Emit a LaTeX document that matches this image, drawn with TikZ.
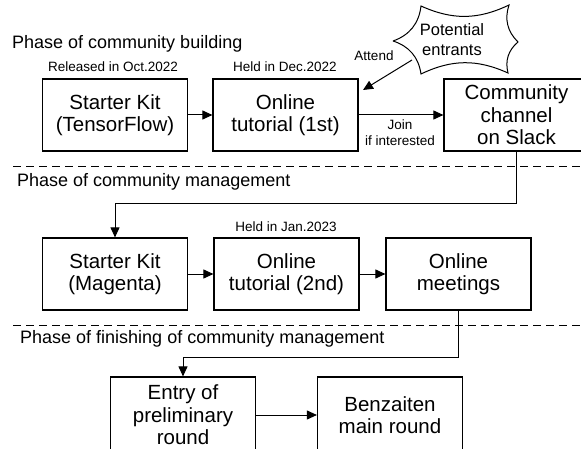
\documentclass[tikz,border=0pt]{standalone}
\usepackage{fontspec}
\setmainfont{Liberation Sans}
\usetikzlibrary{arrows.meta}
\tikzset{box/.style={draw,line width=1.2pt,minimum width=145pt,minimum height=72pt,
   align=center,inner sep=0pt,font=\fontsize{20.5}{22.5}\selectfont},
 note/.style={align=center,inner sep=0pt,font=\fontsize{13.5}{16}\selectfont},
 phase/.style={anchor=west,inner sep=0pt,font=\fontsize{18}{20}\selectfont},
 sep/.style={line width=1pt,dash pattern=on 8pt off 5pt},
 arr/.style={line width=1pt,-{Triangle[length=10pt,width=9pt]}},
 }

\begin{document}
\begin{tikzpicture}[x=1pt,y=-1pt]
        \useasboundingbox (0,0) rectangle (581,449);
        \clip (0,0) rectangle (581,449);
        % building
        \node[phase] (ph1) at (12,44) {Phase of community building};
        \node[box] (kit1) at (115,115) {Starter Kit\\(TensorFlow)};
        \node[box] (tut1) at (285.5,115) {Online\\tutorial (1st)};
        \node[box] (slack) at (516.5,115) {Community\\channel\\on Slack};
        \node[note] (oct) at (113,67) {Released in Oct.2022};
        \node[note] (dec) at (285,67) {Held in Dec.2022};
        \draw[line width=1pt] (393,41) to[bend right=32] (421,6) to[bend right=25] (509,5)
            to[bend right=32] (518,42) to[bend right=32] (508,73) to[bend right=25] (421,74)
            to[bend right=32] (393,41);
        \node[align=center,inner sep=0pt,font=\fontsize{16.5}{20}\selectfont] (ent) at (452,40) {Potential\\entrants};
        \coordinate (att) at (412,60);
        \coordinate (atttip) at (363,90);
        \draw[arr] (att) -- (atttip);
        \node[note] (attl) at (374,56) {Attend};
        \draw[arr] (kit1) -- (tut1);
        \draw[arr] (tut1) -- (slack);
        \node[note] (join) at (400,133) {Join\\if interested};
        \draw[sep] (13,167) -- (581,167);
        % management
        \node[phase] (ph2) at (17,182) {Phase of community management};
        \node[box] (kit2) at (115,274) {Starter Kit\\(Magenta)};
        \node[box] (tut2) at (286.5,274) {Online\\tutorial (2nd)};
        \node[box] (meet) at (458.5,274) {Online\\meetings};
        \node[note] (jan) at (286,227) {Held in Jan.2023};
        \draw[arr] (slack.south) -- ++(0,52) -| (kit2.north);
        \draw[arr] (kit2) -- (tut2);
        \draw[arr] (tut2) -- (meet);
        \draw[sep] (13,325) -- (581,325);
        % finishing
        \node[phase] (ph3) at (20,339) {Phase of finishing of community management};
        \node[box,minimum height=76pt] (entry) at (183,415) {Entry of\\preliminary\\round};
        \node[box,minimum height=76pt] (benz) at (390,415) {Benzaiten\\main round};
        \draw[arr] (meet.south) -- ++(0,47) -| (entry.north);
        \draw[arr] (entry) -- (benz);
    \end{tikzpicture}
\end{document}
